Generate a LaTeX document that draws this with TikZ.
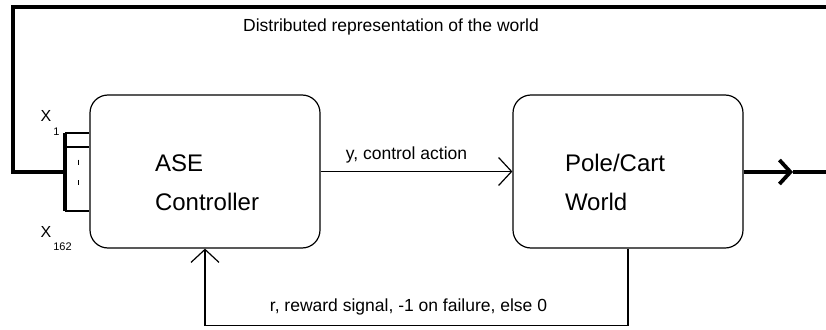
\documentclass[tikz,border=0pt]{standalone}
\usepackage{fontspec}
\setmainfont{Liberation Sans}
\usetikzlibrary{arrows.meta, positioning, calc}
\tikzset{
  every picture/.style={line width=1.2pt},
  box/.style={draw, rounded corners=18pt, minimum width=230pt, minimum height=153pt, inner sep=0pt},
  boxtext/.style={font=\fontsize{24}{39}\selectfont, align=left, inner sep=0pt},
  lbl/.style={font=\fontsize{17.5}{21}\selectfont, inner sep=0pt},
  xlab/.style={font=\fontsize{16}{19}\selectfont, inner sep=0pt},
  arrow/.style={-{Straight Barb[length=13pt, width=28pt]}},
  bus/.style={line width=3.8pt, line join=miter},
  busarrow/.style={bus, -{Straight Barb[length=11pt, width=24pt]}},
}
\begin{document}
\begin{tikzpicture}[x=1pt, y=-1pt]
  \useasboundingbox (0,0) rectangle (826,329);
  % the two blocks
  \node[box] (ase) at (205,171.5) {};
  \node[box] (world) at (628,171.5) {};
  \node[boxtext, anchor=base west] (asetxt) at ([xshift=65pt, yshift=-39pt]ase.west) {ASE\\Controller};
  \node[boxtext, anchor=base west] (worldtxt) at ([xshift=52pt, yshift=-39pt]world.west) {Pole/Cart\\World};
  % input bus x_1 .. x_162
  \coordinate (busTop) at (65,133);
  \coordinate (busMid) at (65,172);
  \coordinate (busBot) at (65,211);
  \draw[bus, line cap=butt] (busTop) -- (busBot);
  \foreach \y [count=\i] in {133,147,211} {
    \coordinate (tap\i) at (65,\y);
    \draw (tap\i) -- (tap\i -| ase.west);
  }
  \foreach \y in {162,182.5} \draw[line width=0.8pt] (78,\y-2.5) -- (78,\y+2.5);
  \node[xlab, anchor=base west] (xfirst) at (40,121) {X\kern2pt\raisebox{-14pt}{\fontsize{11}{13}\selectfont 1}};
  \node[xlab, anchor=base west] (xlast) at (40,237) {X\kern2pt\raisebox{-13pt}{\fontsize{11}{13}\selectfont 162}};
  % state loop back to the input
  \coordinate (topR) at (826,7);
  \coordinate (bendL) at (13,172);
  \draw[bus] (topR) -| (bendL) -- (busMid);
  \node[lbl] (dist) at (391,27) {Distributed representation of the world};
  % action and reward
  \draw[arrow] (ase) -- node[lbl, above=8pt, xshift=-10pt] (ylbl) {y, control action} (world);
  \draw[arrow] (world.south) -- ++(0,77) -| node[lbl, pos=0.25, above=10pt, xshift=-8pt] (rlbl) {r, reward signal, -1 on failure, else 0} (ase.south);
  % world state out
  \coordinate (outTip) at (793,172);
  \coordinate (outR) at (826,172);
  \draw[busarrow] (world.east |- outTip) -- (outTip);
  \draw[bus] (outTip) -- (outR);
\end{tikzpicture}
\end{document}
